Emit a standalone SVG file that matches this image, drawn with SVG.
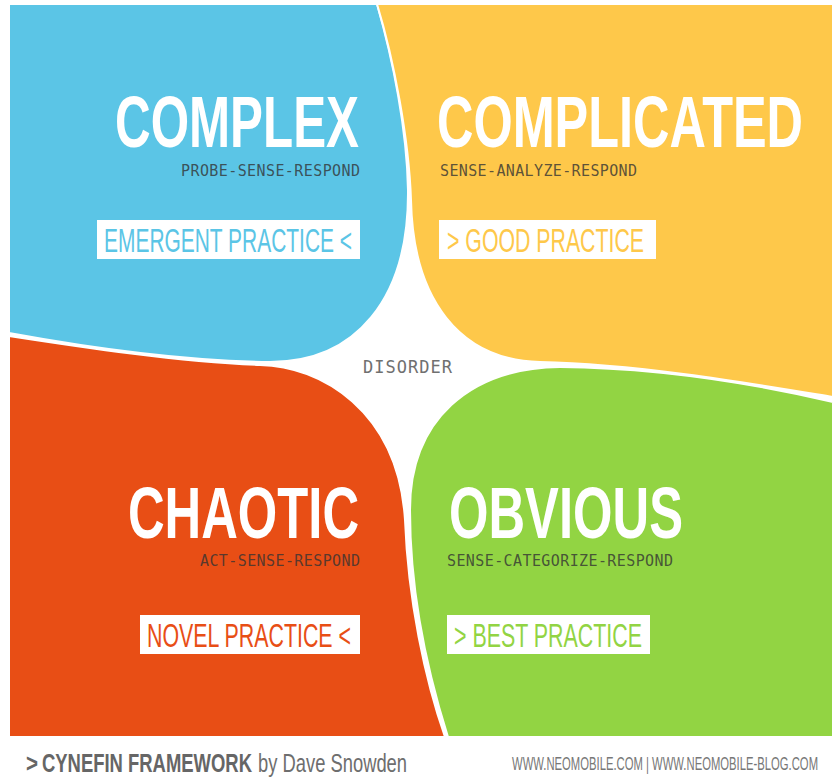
<svg xmlns="http://www.w3.org/2000/svg" width="833" height="779" viewBox="0 0 833 779">
  <style>
    .blob { stroke: #ffffff; stroke-width: 2; stroke-linejoin: round; }
    .title { font-family: "Liberation Sans", Arial, sans-serif; font-weight: 700; font-size: 72px; fill: #ffffff; }
    .method { font-family: "DejaVu Sans Mono", "Liberation Mono", monospace; font-size: 15px; fill: #333333; fill-opacity: 0.8; }
    .tag { fill: #ffffff; }
    .tagtext { font-family: "Liberation Sans", Arial, sans-serif; font-weight: 400; font-size: 33px; }
    .center { font-family: "DejaVu Sans Mono", "Liberation Mono", monospace; font-size: 17px; fill: #707070; }
    .foot-bold { font-family: "Liberation Sans", Arial, sans-serif; font-weight: 700; font-size: 26px; fill: #666666; }
    .foot-light { font-family: "Liberation Sans", Arial, sans-serif; font-weight: 400; font-size: 26px; fill: #6e6e6e; }
    .foot-url { font-family: "Liberation Sans", Arial, sans-serif; font-weight: 400; font-size: 18px; fill: #777777; }
  </style>

  <rect x="0" y="0" width="833" height="779" fill="#ffffff"/>

  <!-- Complex domain (top left) -->
  <g id="complex">
    <path class="blob" fill="#5BC5E6"
          d="M9,4 H377 C393,60 407,130 408,190 C409,300 355,362 270,362 C180,361 80,346 9,333 Z"/>
    <text class="title" transform="translate(115,147) scale(0.69,1)" textLength="353.6" lengthAdjust="spacingAndGlyphs">COMPLEX</text>
    <text class="method" x="181" y="176" textLength="179">PROBE-SENSE-RESPOND</text>
    <rect class="tag" x="97" y="220" width="263" height="39"/>
    <text class="tagtext" fill="#5BC5E6" transform="translate(104,251.5) scale(0.63,1)" textLength="393.7" lengthAdjust="spacingAndGlyphs">EMERGENT PRACTICE &lt;</text>
  </g>

  <!-- Complicated domain (top right) -->
  <g id="complicated">
    <path class="blob" fill="#FEC84A"
          d="M377,4 H833 V397 C760,385 640,364 540,362 C460,360 413,300 411,200 C409,140 394,60 377,4 Z"/>
    <text class="title" transform="translate(437,147) scale(0.69,1)" textLength="530.4" lengthAdjust="spacingAndGlyphs">COMPLICATED</text>
    <text class="method" x="440" y="176" textLength="197">SENSE-ANALYZE-RESPOND</text>
    <rect class="tag" x="439" y="220" width="217" height="39"/>
    <text class="tagtext" fill="#FEC84A" transform="translate(447,251.5) scale(0.63,1)" textLength="312.7" lengthAdjust="spacingAndGlyphs">&gt; GOOD PRACTICE</text>
  </g>

  <!-- Chaotic domain (bottom left) -->
  <g id="chaotic">
    <path class="blob" fill="#E84E15"
          d="M9,336 C80,347 180,362 260,365 C320,366 398,410 405,520 C408,600 425,680 445,737 H9 Z"/>
    <text class="title" transform="translate(128,538) scale(0.69,1)" textLength="334.8" lengthAdjust="spacingAndGlyphs">CHAOTIC</text>
    <text class="method" x="200" y="566" textLength="160">ACT-SENSE-RESPOND</text>
    <rect class="tag" x="140" y="615" width="220" height="39"/>
    <text class="tagtext" fill="#E84E15" transform="translate(147,646.5) scale(0.63,1)" textLength="323.8" lengthAdjust="spacingAndGlyphs">NOVEL PRACTICE &lt;</text>
  </g>

  <!-- Obvious domain (bottom right) -->
  <g id="obvious">
    <path class="blob" fill="#92D443"
          d="M448,737 C430,680 410,600 410,510 C410,420 470,368 560,367 C660,368 760,385 833,402 V737 Z"/>
    <text class="title" transform="translate(449,538) scale(0.69,1)" textLength="339.1" lengthAdjust="spacingAndGlyphs">OBVIOUS</text>
    <text class="method" x="447" y="566" textLength="226">SENSE-CATEGORIZE-RESPOND</text>
    <rect class="tag" x="447" y="615" width="203" height="39"/>
    <text class="tagtext" fill="#92D443" transform="translate(454,646.5) scale(0.63,1)" textLength="298.4" lengthAdjust="spacingAndGlyphs">&gt; BEST PRACTICE</text>
  </g>

  <!-- Disorder in the middle -->
  <g id="disorder">
    <text class="center" x="363" y="373" textLength="89">DISORDER</text>
  </g>

  <!-- Footer credits -->
  <g id="footer">
    <text class="foot-bold" transform="translate(26,772) scale(0.69,1)" textLength="17.4" lengthAdjust="spacingAndGlyphs">&gt;</text>
    <text class="foot-bold" transform="translate(42,772) scale(0.69,1)" textLength="304.3" lengthAdjust="spacingAndGlyphs">CYNEFIN FRAMEWORK</text>
    <text class="foot-light" transform="translate(258,772) scale(0.69,1)" textLength="216" lengthAdjust="spacingAndGlyphs">by Dave Snowden</text>
    <text class="foot-url" transform="translate(512,770) scale(0.623,1)" textLength="491.2" lengthAdjust="spacingAndGlyphs">WWW.NEOMOBILE.COM | WWW.NEOMOBILE-BLOG.COM</text>
  </g>
</svg>
